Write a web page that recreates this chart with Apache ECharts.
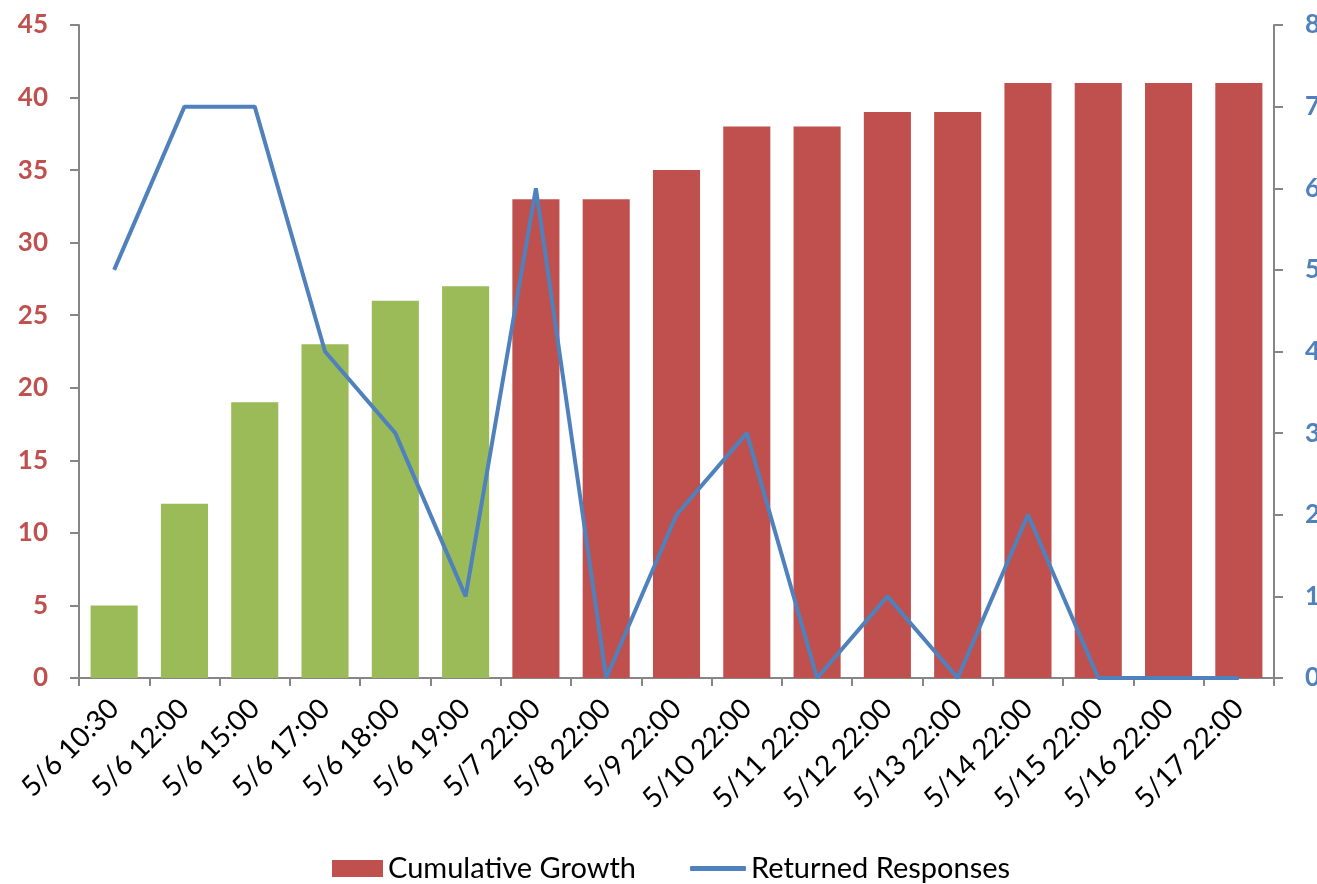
<!DOCTYPE html>
<html><head><meta charset="utf-8">
<script src="https://cdn.jsdelivr.net/npm/echarts@6/dist/echarts.min.js"></script>
<style>html,body{margin:0;padding:0;background:#fff}#c{width:1317px;height:884px}</style>
</head><body><div id="c"></div>
<script>
const categories = ['5/6 10:30','5/6 12:00','5/6 15:00','5/6 17:00','5/6 18:00','5/6 19:00','5/7 22:00','5/8 22:00','5/9 22:00','5/10 22:00','5/11 22:00','5/12 22:00','5/13 22:00','5/14 22:00','5/15 22:00','5/16 22:00','5/17 22:00'];
const cumulativeGrowth = [5,12,19,23,26,27,33,33,35,38,38,39,39,41,41,41,41];
const returnedResponses = [5,7,7,4,3,1,6,0,2,3,0,1,0,2,0,0,0];
const greenCount = 6;
const GREEN = '#9BBB59', RED = '#C0504D', BLUE = '#4F81BD', AXIS = '#868686';
const FONT = 'Lato';

const chart = echarts.init(document.getElementById('c'));
chart.setOption({
  animation: false,
  grid: {left: 79, right: 43, top: 25, bottom: 206, containLabel: false, outerBoundsMode: 'none'},
  legend: [
    {data: [{name: 'Cumulative Growth', icon: 'rect'}], left: 332, top: 854, padding: 0, itemWidth: 51, itemHeight: 17, itemGap: 6,
     textStyle: {fontFamily: FONT, fontSize: 29, color: '#000'}},
    {data: [{name: 'Returned Responses', icon: 'roundRect'}], left: 690, top: 854, padding: 0, itemWidth: 56, itemHeight: 5, itemGap: 5,
     textStyle: {fontFamily: FONT, fontSize: 29, color: '#000'}}
  ],
  xAxis: {
    type: 'category', data: categories, boundaryGap: true,
    axisLine: {lineStyle: {color: AXIS, width: 2}},
    axisTick: {show: true, length: 8, lineStyle: {color: AXIS, width: 2}},
    axisLabel: {rotate: 45, fontFamily: FONT, fontSize: 28, color: '#000', margin: 26, interval: 0}
  },
  yAxis: [
    {type: 'value', min: 0, max: 45, interval: 5, position: 'left',
     axisLine: {show: true, lineStyle: {color: AXIS, width: 2}},
     axisTick: {show: true, length: 9, lineStyle: {color: AXIS, width: 2}},
     splitLine: {show: false},
     axisLabel: {fontFamily: FONT, fontSize: 26, fontWeight: 'bold', color: RED, margin: 31}},
    {type: 'value', min: 0, max: 8, interval: 1, position: 'right',
     axisLine: {show: true, lineStyle: {color: AXIS, width: 2}},
     axisTick: {show: true, length: 9, lineStyle: {color: AXIS, width: 2}},
     splitLine: {show: false},
     axisLabel: {fontFamily: FONT, fontSize: 26, fontWeight: 'bold', color: BLUE, margin: 31}}
  ],
  series: [
    {name: 'Cumulative Growth', type: 'bar', yAxisIndex: 0, barWidth: '67%', color: RED,
     data: cumulativeGrowth.map((v, i) => ({value: v, itemStyle: {color: i < greenCount ? GREEN : RED}}))},
    {name: 'Returned Responses', type: 'line', yAxisIndex: 1, data: returnedResponses, color: BLUE,
     symbol: 'none', showSymbol: false, lineStyle: {width: 4, color: BLUE}}
  ]
});
</script></body></html>
